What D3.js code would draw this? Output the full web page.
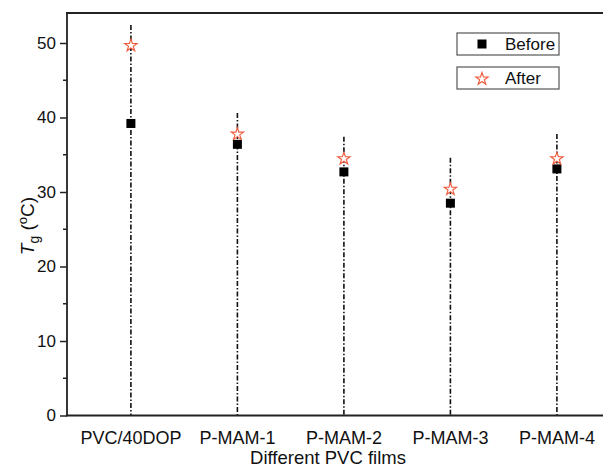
<!DOCTYPE html>
<html>
<head>
<meta charset="utf-8">
<script src="https://cdn.jsdelivr.net/npm/d3@7"></script>
<style>
  body { margin: 0; background: #fff; }
  text { font-family: "Liberation Sans", Arial, sans-serif; fill: #111; }
</style>
</head>
<body>
<div id="chart"></div>
<script>
// data
let films = ["PVC/40DOP", "P-MAM-1", "P-MAM-2", "P-MAM-3", "P-MAM-4"];
let before = [39.2, 36.4, 32.7, 28.5, 33.1];
let after = [49.8, 37.9, 34.6, 30.5, 34.6];
let lineTop = [52.4, 40.6, 37.4, 34.6, 37.8];
let yTicks = [0, 10, 20, 30, 40, 50];
let yMinor = [5, 15, 25, 35, 45];

let width = 603;
let height = 468;

let margin = { top: 13, left: 67, bottom: 52 };

let svg = d3.select("#chart")
    .append("svg")
    .attr("width", width)
    .attr("height", height);

let x = d3.scaleLinear()
    .domain([-0.6, 4.6])
    .range([margin.left, margin.left + 5.2 * 106.5]);

let y = d3.scaleLinear()
    .domain([0, 50])
    .range([415.5, 43]);

let yTop = margin.top;

// dash-dot drop lines
svg.selectAll(".drop")
    .data(films)
    .enter()
    .append("line")
    .attr("x1", (d, i) => x(i))
    .attr("x2", (d, i) => x(i))
    .attr("y1", (d, i) => y(lineTop[i]))
    .attr("y2", y(0))
    .attr("stroke", "#111")
    .attr("stroke-width", 1.6)
    .attr("stroke-dasharray", "5,2,1.5,2");

// y axis
let yAxis = svg.append("g")
    .attr("transform", "translate(" + margin.left + ",0)")
    .call(d3.axisLeft(y).tickValues(yTicks).tickSize(7).tickSizeOuter(0).tickPadding(4));
yAxis.select(".domain").remove();
yAxis.selectAll("line").attr("stroke", "#222").attr("stroke-width", 1.5);
yAxis.selectAll("text").style("font-size", "17px").style("font-family", "Liberation Sans, Arial, sans-serif").attr("fill", "#111");

svg.append("g")
    .selectAll("line")
    .data(yMinor)
    .enter()
    .append("line")
    .attr("x1", margin.left - 4)
    .attr("x2", margin.left)
    .attr("y1", d => y(d))
    .attr("y2", d => y(d))
    .attr("stroke", "#222")
    .attr("stroke-width", 1.5);

// frame lines
svg.append("line")
    .attr("x1", margin.left).attr("x2", margin.left)
    .attr("y1", yTop).attr("y2", y(0) + 0.75)
    .attr("stroke", "#222").attr("stroke-width", 1.8);
svg.append("line")
    .attr("x1", margin.left - 1).attr("x2", width)
    .attr("y1", y(0)).attr("y2", y(0))
    .attr("stroke", "#222").attr("stroke-width", 1.8);
svg.append("line")
    .attr("x1", margin.left - 1).attr("x2", width)
    .attr("y1", yTop).attr("y2", yTop)
    .attr("stroke", "#222").attr("stroke-width", 1.8);

// x labels
svg.selectAll(".xlab")
    .data(films)
    .enter()
    .append("text")
    .attr("x", (d, i) => x(i))
    .attr("y", 444)
    .attr("text-anchor", "middle")
    .style("font-size", "18px")
    .text(d => d);

svg.append("text")
    .attr("x", 328)
    .attr("y", 464)
    .attr("text-anchor", "middle")
    .style("font-size", "18.5px")
    .text("Different PVC films");

// y label
let yl = svg.append("text")
    .attr("transform", "translate(34,226) rotate(-90)")
    .attr("text-anchor", "middle")
    .style("font-size", "19px");
yl.append("tspan").style("font-style", "italic").text("T");
yl.append("tspan").attr("dy", 5).style("font-size", "14px").text("g");
yl.append("tspan").attr("dy", -5).text(" (");
yl.append("tspan").attr("dy", -7).style("font-size", "13px").text("o");
yl.append("tspan").attr("dy", 7).text("C)");

// markers
let star = d3.symbol().type(d3.symbolStar).size(48);

svg.selectAll(".before")
    .data(before)
    .enter()
    .append("rect")
    .attr("x", (d, i) => x(i) - 4.5)
    .attr("y", d => y(d) - 4.5)
    .attr("width", 9)
    .attr("height", 9)
    .attr("fill", "#000");

svg.selectAll(".after")
    .data(after)
    .enter()
    .append("path")
    .attr("d", star)
    .attr("transform", (d, i) => "translate(" + x(i) + "," + (y(d) + 1) + ")")
    .attr("fill", "#fff")
    .attr("stroke", "#f05a3c")
    .attr("stroke-width", 1.1);

// legend boxes
let legend = [
    { label: "Before", top: 33 },
    { label: "After", top: 67 }
];
let lg = svg.selectAll(".legend")
    .data(legend)
    .enter()
    .append("g")
    .attr("transform", d => "translate(457," + d.top + ")");

lg.append("rect")
    .attr("width", 102)
    .attr("height", 22)
    .attr("fill", "#fff")
    .attr("stroke", "#555")
    .attr("stroke-width", 1.2);

lg.append("text")
    .attr("x", 48)
    .attr("y", 17)
    .style("font-size", "17px")
    .text(d => d.label);

lg.filter((d, i) => i === 0)
    .append("rect")
    .attr("x", 20.5)
    .attr("y", 6.5)
    .attr("width", 9)
    .attr("height", 9)
    .attr("fill", "#000");

lg.filter((d, i) => i === 1)
    .append("path")
    .attr("d", star)
    .attr("transform", "translate(25,12)")
    .attr("fill", "#fff")
    .attr("stroke", "#f05a3c")
    .attr("stroke-width", 1.1);
</script>
</body>
</html>
